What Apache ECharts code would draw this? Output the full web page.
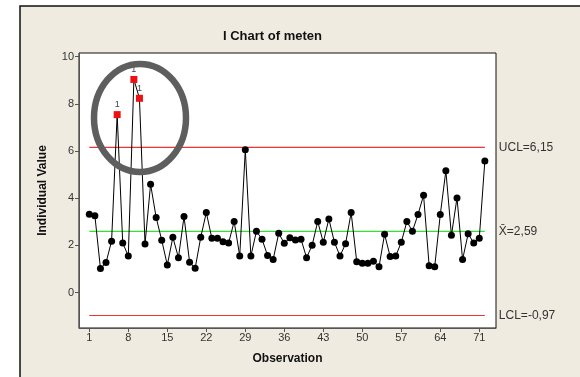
<!DOCTYPE html>
<html>
<head>
<meta charset="utf-8">
<script src="https://cdn.jsdelivr.net/npm/echarts@6/dist/echarts.min.js"></script>
<style>
  html, body { margin: 0; padding: 0; background: #fff; }
  #chart { width: 580px; height: 377px; }
</style>
</head>
<body>
<div id="chart"></div>
<script>
// individual values, observations 1..72
const values = [
    3.32, 3.26, 1.02, 1.27, 2.18, 7.54, 2.10, 1.55, 9.03, 8.23,
    2.06, 4.59, 3.18, 2.22, 1.17, 2.34, 1.48, 3.22, 1.29, 1.03,
    2.34, 3.39, 2.30, 2.30, 2.15, 2.10, 3.01, 1.55, 6.05, 1.55,
    2.60, 2.26, 1.57, 1.40, 2.51, 2.09, 2.32, 2.23, 2.26, 1.48,
    2.01, 3.01, 2.13, 3.12, 2.13, 1.55, 2.07, 3.39, 1.31, 1.24,
    1.24, 1.33, 1.09, 2.47, 1.53, 1.55, 2.13, 3.01, 2.60, 3.31,
    4.12, 1.14, 1.10, 3.31, 5.16, 2.43, 4.01, 1.40, 2.49, 2.10,
    2.30, 5.58
];
const ucl = 6.15;
const centerLine = 2.59;
const lcl = -0.97;
const xTicks = [1, 8, 15, 22, 29, 36, 43, 50, 57, 64, 71];
const yTicks = [0, 2, 4, 6, 8, 10];

const fmt = function (v) { return v.toFixed(2).replace('.', ','); };
const n = values.length;

var pointData = values.map(function (v, i) {
    if (v > ucl) {
        return {
            value: [i + 1, v],
            symbol: 'rect',
            symbolSize: 7,
            itemStyle: { color: '#ee1111' },
            label: { show: true, formatter: '1', position: 'top', distance: 2, fontSize: 9, color: '#444' }
        };
    }
    return [i + 1, v];
});

function limitSeries(val, color, text) {
    return {
        type: 'line',
        data: [[1, val], [n, val]],
        symbol: 'none',
        silent: true,
        z: 1,
        color: color,
        itemStyle: { color: color },
        lineStyle: { color: color, width: 1.2 },
        endLabel: {
            show: true,
            formatter: text,
            distance: 14,
            fontFamily: 'Liberation Sans',
            fontSize: 12,
            color: '#333'
        }
    };
}

var chartDom = document.getElementById('chart');
var myChart = echarts.init(chartDom, null, { renderer: 'canvas' });

var panel = {
    type: 'rect',
    z: -10,
    silent: true,
    shape: { x: 20, y: 6, width: 600, height: 400 },
    style: { fill: '#efebe1', stroke: '#111', lineWidth: 1.5 }
};

var option = {
    animation: false,
    backgroundColor: '#fff',
    textStyle: { fontFamily: 'Liberation Sans' },
    graphic: [panel],
    title: {
        text: 'I Chart of meten',
        left: 218,
        top: 25,
        textStyle: { fontSize: 13, fontWeight: 'bold', color: '#111', fontFamily: 'Liberation Sans' }
    },
    grid: {
        left: 79, right: 84, top: 53, bottom: 49,
        show: true,
        backgroundColor: '#fff',
        borderColor: '#111',
        borderWidth: 1
    },
    xAxis: {
        type: 'value',
        min: -0.85,
        max: 74,
        name: 'Observation',
        nameLocation: 'middle',
        nameGap: 25,
        nameTextStyle: { fontSize: 12, fontWeight: 'bold', color: '#111' },
        splitLine: { show: false },
        axisLine: { onZero: false, lineStyle: { color: '#555' } },
        axisTick: { customValues: xTicks, length: 4, lineStyle: { color: '#555' } },
        axisLabel: { customValues: xTicks, fontSize: 11, color: '#333', margin: 4 }
    },
    yAxis: {
        type: 'value',
        min: -1.5,
        max: 10.15,
        name: 'Individual Value',
        nameLocation: 'middle',
        nameGap: 30,
        nameTextStyle: { fontSize: 12, fontWeight: 'bold', color: '#111' },
        splitLine: { show: false },
        axisLine: { onZero: false, lineStyle: { color: '#555' } },
        axisTick: { customValues: yTicks, length: 4, lineStyle: { color: '#555' } },
        axisLabel: { customValues: yTicks, fontSize: 11, color: '#333', margin: 5 }
    },
    series: [
        limitSeries(ucl, '#ee3333', 'UCL=' + fmt(ucl)),
        limitSeries(centerLine, '#33e033', 'X\u0304=' + fmt(centerLine)),
        limitSeries(lcl, '#ee3333', 'LCL=' + fmt(lcl)),
        {
            type: 'line',
            data: pointData,
            z: 3,
            color: '#000',
            symbol: 'circle',
            symbolSize: 7,
            showAllSymbol: true,
            itemStyle: { color: '#000' },
            lineStyle: { color: '#000', width: 1 }
        }
    ]
};
myChart.setOption(option);

// grey ring drawn around the out-of-control points
var c = myChart.convertToPixel({ gridIndex: 0 }, [10.1, 7.4]);
myChart.setOption({
    graphic: [panel, {
        type: 'ellipse',
        z: 10,
        silent: true,
        shape: { cx: c[0], cy: c[1], rx: 46, ry: 54 },
        style: { fill: 'none', stroke: '#5e5e5e', lineWidth: 6.5 }
    }]
});
</script>
</body>
</html>
